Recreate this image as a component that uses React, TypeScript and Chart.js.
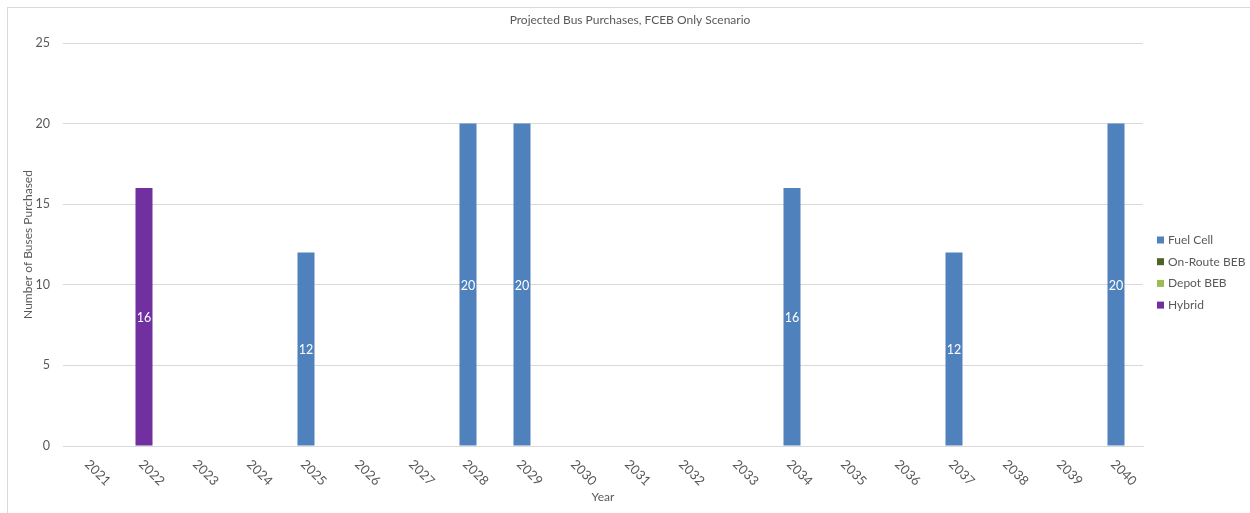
import React, { useEffect, useRef } from "react";
import { Chart, registerables } from "chart.js";

Chart.register(...registerables);

const years = ["2021","2022","2023","2024","2025","2026","2027","2028","2029","2030","2031","2032","2033","2034","2035","2036","2037","2038","2039","2040"];
const fuelCell = [0,0,0,0,12,0,0,20,20,0,0,0,0,16,0,0,12,0,0,20];
const onRouteBEB = [0,0,0,0,0,0,0,0,0,0,0,0,0,0,0,0,0,0,0,0];
const depotBEB = [0,0,0,0,0,0,0,0,0,0,0,0,0,0,0,0,0,0,0,0];
const hybrid = [0,16,0,0,0,0,0,0,0,0,0,0,0,0,0,0,0,0,0,0];
const seriesNames = ["Fuel Cell", "On-Route BEB", "Depot BEB", "Hybrid"];
const seriesColors = ["#4f81bd", "#4f6228", "#9bbb59", "#7030a0"];
const yTicks = [0, 5, 10, 15, 20, 25];
const chartTitle = "Projected Bus Purchases, FCEB Only Scenario";
const xTitle = "Year";
const yTitle = "Number of Buses Purchased";

const FONT = "Lato, 'Open Sans', sans-serif";
const TXT = "#595959";

const customDraw = {
  id: "customDraw",
  afterDatasetsDraw(chart: any) {
    const ctx = chart.ctx;
    ctx.save();
    ctx.font = `12.5px ${FONT}`;
    ctx.fillStyle = "#ffffff";
    ctx.textAlign = "center";
    ctx.textBaseline = "middle";
    chart.data.datasets.forEach((ds: any, di: number) => {
      const meta = chart.getDatasetMeta(di);
      meta.data.forEach((bar: any, i: number) => {
        const v = ds.data[i];
        if (!v) return;
        const { x, y, base } = bar.getProps(["x", "y", "base"], true);
        ctx.fillText(String(v), x, (y + base) / 2 + 1);
      });
    });
    ctx.restore();
  },
  afterDraw(chart: any) {
    const ctx = chart.ctx;
    const area = chart.chartArea;
    const xs = chart.scales.x;
    ctx.save();
    ctx.fillStyle = TXT;
    ctx.font = `12px ${FONT}`;
    ctx.textAlign = "center";
    ctx.textBaseline = "middle";
    ctx.fillText(chartTitle, 622, 12);
    ctx.fillText(xTitle, (area.left + area.right) / 2, 489);
    ctx.save();
    ctx.translate(20, (area.top + area.bottom) / 2);
    ctx.rotate(-Math.PI / 2);
    ctx.fillText(yTitle, 0, 0);
    ctx.restore();
    ctx.textAlign = "left";
    ctx.font = `13px ${FONT}`;
    years.forEach((lab, i) => {
      const x = xs.getPixelForTick(i);
      ctx.save();
      ctx.translate(x - 3, area.bottom + 16);
      ctx.rotate(Math.PI / 4);
      ctx.fillText(lab, 0, 0);
      ctx.restore();
    });
    ctx.font = `12px ${FONT}`;
    const lx = 1149;
    const ly0 = 232;
    const step = 21.7;
    seriesNames.forEach((name, i) => {
      const cy = ly0 + i * step;
      ctx.fillStyle = seriesColors[i];
      ctx.fillRect(lx, cy - 3.5, 7, 7);
      ctx.fillStyle = TXT;
      ctx.textAlign = "left";
      ctx.fillText(name, lx + 11, cy);
    });
    ctx.restore();
  },
};

export default function App() {
  const ref = useRef<HTMLCanvasElement>(null);
  useEffect(() => {
    if (!ref.current) return;
    const data = [fuelCell, onRouteBEB, depotBEB, hybrid];
    const chart = new Chart(ref.current, {
      type: "bar",
      data: {
        labels: years,
        datasets: seriesNames.map((n, i) => ({
          label: n,
          data: data[i],
          backgroundColor: seriesColors[i],
          borderWidth: 0,
          barPercentage: 0.315,
          categoryPercentage: 1,
        })),
      },
      options: {
        responsive: false,
        animation: false,
        layout: { padding: { top: 35, right: 107, left: 0, bottom: 0 } },
        plugins: {
          legend: { display: false },
          title: { display: false },
          tooltip: { enabled: false },
        },
        scales: {
          x: {
            stacked: true,
            grid: { display: false, drawTicks: false },
            border: { color: "#d9d9d9", width: 1 },
            ticks: { display: false },
            afterFit: (s: any) => { s.height = 67; },
          },
          y: {
            stacked: true,
            min: 0,
            max: 25,
            afterBuildTicks: (s: any) => { s.ticks = yTicks.map((v) => ({ value: v })); },
            grid: { color: "#d9d9d9", drawTicks: false },
            border: { display: false },
            ticks: { color: TXT, font: { family: FONT, size: 12.5 }, padding: 13 },
            afterFit: (s: any) => { s.width = 55; },
          },
        },
      },
      plugins: [customDraw],
    } as any);
    return () => chart.destroy();
  }, []);
  return (
    <div style={{ position: "absolute", left: 7, top: 7, width: 1260, height: 520, border: "1px solid #d9d9d9", boxSizing: "border-box", overflow: "hidden" }}>
      <canvas ref={ref} width={1242} height={505} style={{ display: "block", position: "absolute", left: 0, top: 0 }} />
    </div>
  );
}
